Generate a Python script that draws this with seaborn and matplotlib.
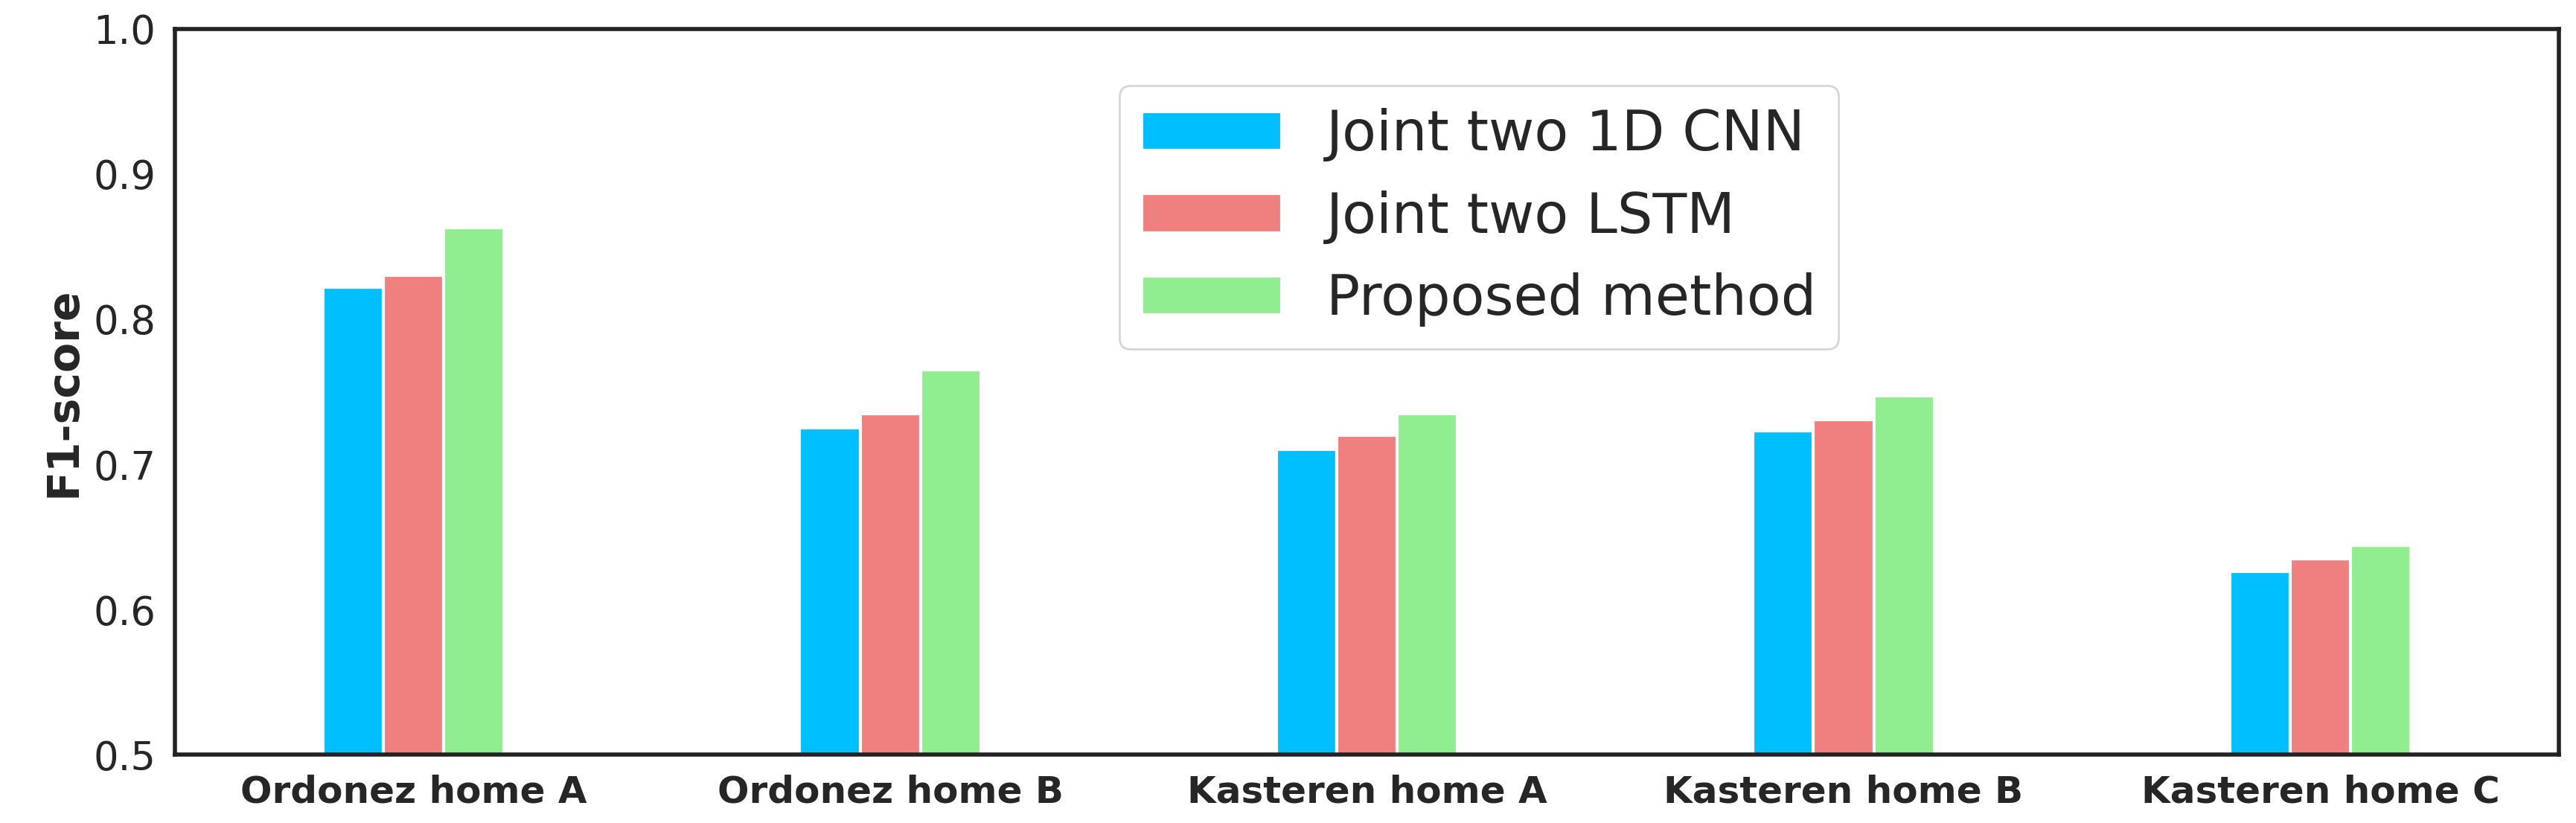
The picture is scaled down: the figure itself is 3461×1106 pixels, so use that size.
import matplotlib
matplotlib.use("Agg")
import matplotlib.pyplot as plt
import seaborn as sns
import pandas as pd

categories = ["Ordonez home A", "Ordonez home B", "Kasteren home A", "Kasteren home B", "Kasteren home C"]
methods = ["Joint two 1D CNN", "Joint two LSTM", "Proposed method"]
cnn = [0.822, 0.725, 0.710, 0.723, 0.626]
lstm = [0.830, 0.735, 0.720, 0.731, 0.635]
proposed = [0.863, 0.765, 0.735, 0.747, 0.644]

rows = []
for m, vals in zip(methods, [cnn, lstm, proposed]):
    for c, v in zip(categories, vals):
        rows.append({"cat": c, "method": m, "f1": v})
df = pd.DataFrame(rows)

sns.set_theme(style="white")
fig = plt.figure(figsize=(17.31, 5.53), dpi=200)
ax = fig.add_axes([0.068, 0.083, 0.925, 0.882])
sns.barplot(data=df, x="cat", y="f1", hue="method", ax=ax,
            palette=["#00BFFF", "lightcoral", "lightgreen"], width=0.38,
            edgecolor="white", linewidth=1.5, saturation=1)
ax.set_ylim(0.5, 1.0)
ax.set_xlim(-0.5, 4.5)
ax.set_xlabel("")
ax.set_ylabel("F1-score", fontsize=21, fontweight="bold")
ax.tick_params(axis="y", labelsize=19)
ax.tick_params(axis="x", labelsize=18)
for t in ax.get_xticklabels():
    t.set_fontweight("bold")
for s in ax.spines.values():
    s.set_color("#222222")
    s.set_linewidth(2)
ax.legend(loc="upper center", bbox_to_anchor=(0.547, 0.96), fontsize=27,
          handlelength=2.5, frameon=True)
fig.savefig("out.png", dpi=200)
